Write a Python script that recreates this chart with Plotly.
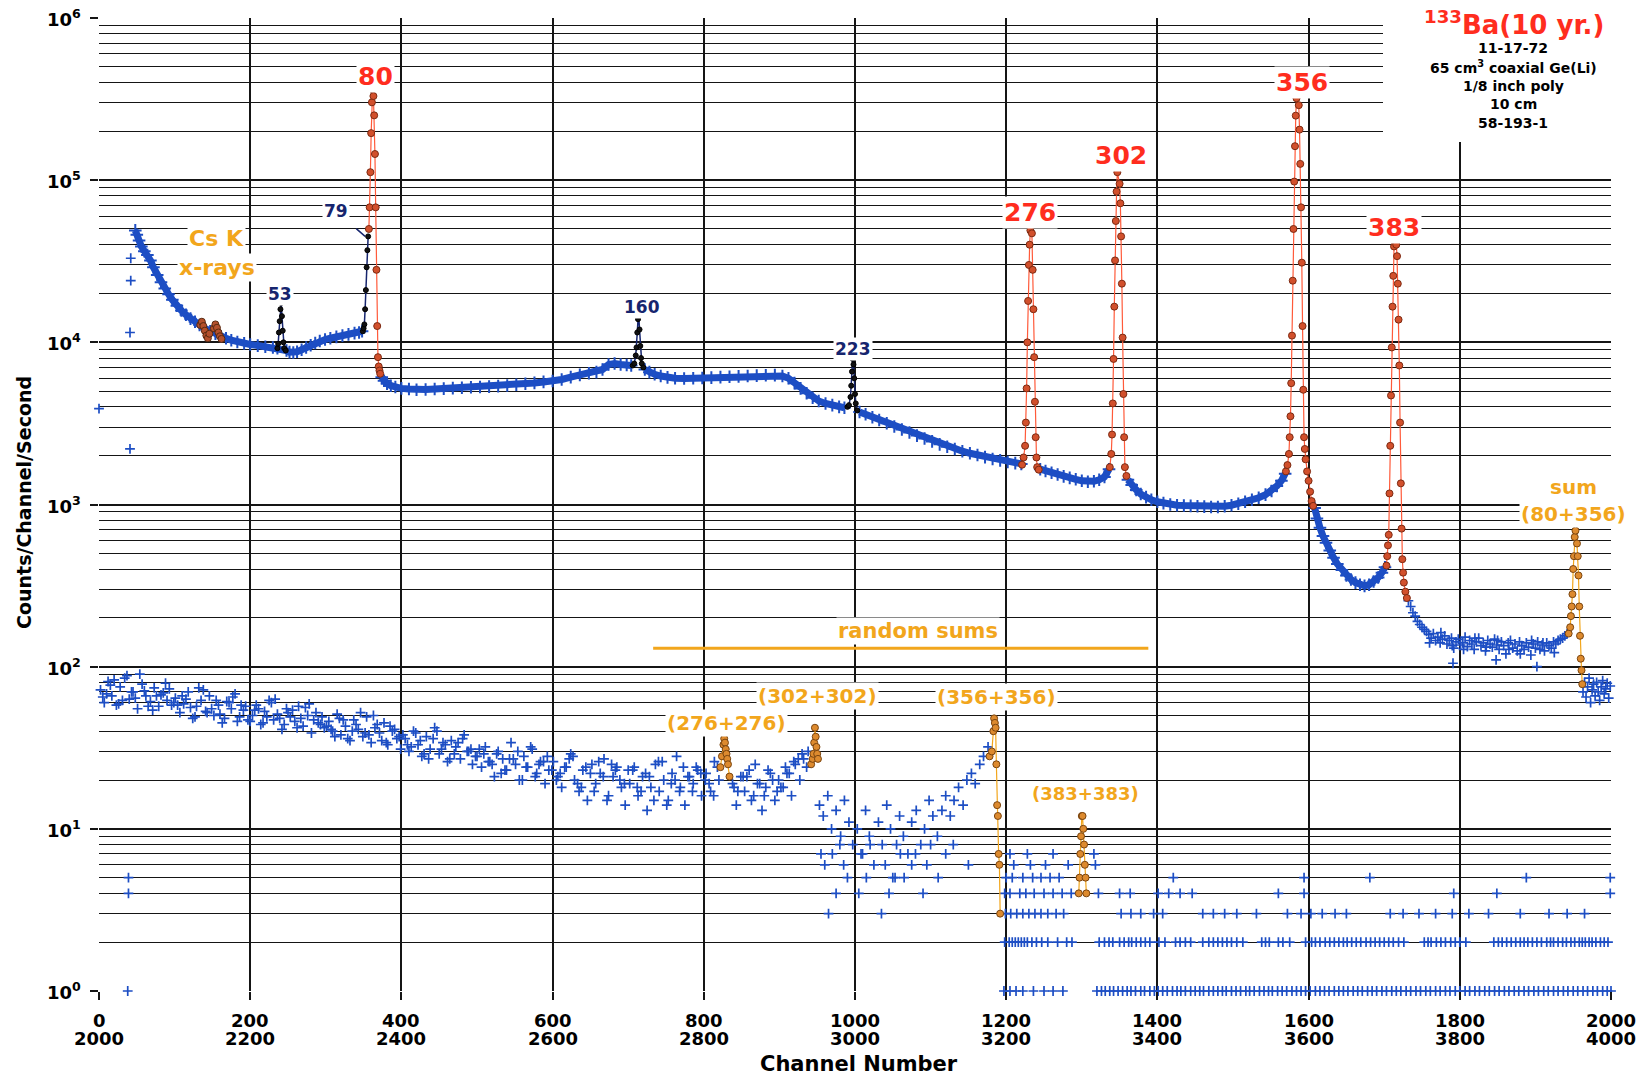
import math
import plotly.graph_objects as go

# ======================= DATA =======================
# Upper spectrum (channels 0-2000), smooth continuum
upper_cont_ch = [
    48, 50, 53, 56, 60, 64, 68, 72, 77, 82, 87, 92, 97, 103, 109, 115,
    121, 127, 133, 140, 147, 154, 161, 168, 175, 183, 192, 200, 210, 220, 230, 236,
    248, 252, 257, 262, 268, 274, 280, 286, 292, 299, 306, 314, 322, 330, 338, 344, 348,
    374, 377, 381, 386, 392, 400, 410, 420, 432, 444, 456, 468, 480, 492, 504, 516,
    528, 540, 552, 564, 576, 588, 600, 612, 624, 636, 648, 658, 666, 674, 682, 690, 698, 704,
    722, 728, 735, 743, 752, 762, 774, 786, 798, 810, 822, 834, 846, 858, 870, 882, 894,
    904, 912, 920, 928, 936, 944, 952, 961, 970, 979, 986,
    1006, 1014, 1023, 1032, 1042, 1052, 1062, 1072, 1082, 1092, 1102, 1112,
    1122, 1132, 1142, 1152, 1162, 1172, 1182, 1192, 1202, 1212, 1220,
    1245, 1252, 1260, 1268, 1276, 1284, 1292, 1300, 1308, 1316, 1323, 1330, 1336,
    1361, 1366, 1372, 1378, 1385, 1392, 1400, 1408, 1417, 1426, 1435, 1444, 1453, 1462,
    1471, 1480, 1489, 1498, 1507, 1516, 1525, 1534, 1543, 1551, 1558, 1564, 1569,
    1608, 1611, 1615, 1619, 1623, 1628, 1633, 1638, 1644, 1650,
    1656, 1662, 1668, 1674, 1680, 1686, 1692, 1697, 1701,
]
upper_cont_val = [
    49000, 46000, 42500, 39000, 36500, 34500, 32000, 29000, 26000, 23500, 21500, 19800, 18300, 16800, 15700, 14800,
    14000, 13400, 12800, 12200, 11700, 11300, 10900, 10600, 10300, 10050, 9850, 9700, 9550, 9400, 9300, 9200,
    8900, 8700, 8650, 8750, 9000, 9300, 9600, 9900, 10200, 10400, 10600, 10800, 11000, 11200, 11400, 11500, 11700,
    6100, 5800, 5550, 5400, 5300, 5200, 5150, 5100, 5120, 5150, 5180, 5220, 5250, 5280, 5300, 5330,
    5370, 5420, 5480, 5550, 5620, 5700, 5780, 5900, 6100, 6300, 6450, 6550, 6800, 7300, 7400, 7300, 7250, 7200,
    6800, 6550, 6350, 6200, 6080, 6000, 5980, 6000, 6030, 6060, 6100, 6130, 6170, 6200, 6230, 6260, 6280,
    6200, 6000, 5600, 5200, 4850, 4550, 4350, 4200, 4100, 4000, 3950,
    3720, 3600, 3450, 3320, 3170, 3030, 2900, 2780, 2660, 2550, 2450, 2350,
    2270, 2200, 2130, 2070, 2020, 1960, 1910, 1870, 1830, 1800, 1780,
    1650, 1610, 1570, 1530, 1490, 1460, 1430, 1400, 1380, 1390, 1420, 1480, 1650,
    1420, 1320, 1230, 1160, 1110, 1070, 1040, 1020, 1000, 990, 985, 980, 975, 970,
    965, 965, 975, 990, 1010, 1040, 1070, 1100, 1150, 1210, 1300, 1400, 1550,
    950, 820, 720, 640, 580, 520, 470, 430, 395, 365,
    345, 330, 320, 315, 320, 335, 355, 380, 410,
]

# Upper spectrum: noisy tail after the 383 keV peak
upper_tail_ch = [
    1732, 1735, 1738, 1741, 1744, 1747, 1750, 1753, 1756, 1759, 1762, 1765, 1768, 1771, 1774, 1777, 1780, 1783,
    1786, 1789, 1792, 1795, 1798, 1801, 1804, 1807, 1810, 1813, 1816, 1819, 1822, 1825, 1828, 1831, 1834, 1837,
    1840, 1843, 1846, 1849, 1852, 1855, 1858, 1861, 1864, 1867, 1870, 1873, 1876, 1879, 1882, 1885, 1888, 1891,
    1894, 1897, 1900, 1903, 1906, 1909, 1912, 1915, 1918, 1921, 1924, 1927, 1930, 1933, 1936, 1939, 1942,
    1760, 1775, 1790, 1805, 1820, 1835, 1850, 1865, 1880, 1895, 1910, 1925, 1791, 1848, 1902,
]
upper_tail_val = [
    255, 235, 215, 205, 190, 182, 175, 170, 165, 158, 150, 160, 145, 152, 140, 148, 155, 138,
    145, 150, 130, 142, 148, 136, 140, 152, 133, 145, 138, 128, 142, 150, 135, 140, 125, 145,
    138, 132, 148, 136, 128, 142, 135, 120, 140, 145, 130, 138, 125, 142, 135, 128, 140, 132,
    118, 138, 130, 142, 128, 136, 125, 140, 135, 130, 142, 138, 145, 148, 150, 155, 160,
    140, 162, 135, 128, 150, 132, 145, 128, 120, 145, 140, 122, 105, 110, 100,
]
# after the sum peak
upper_end_ch = [1963, 1965, 1967, 1969, 1971, 1973, 1975, 1977, 1979, 1981, 1983, 1985, 1987, 1989, 1991, 1993, 1995, 1997, 1999]
upper_end_val = [70, 80, 65, 75, 85, 60, 72, 78, 66, 80, 70, 62, 75, 82, 68, 73, 79, 64, 76]
# stray points at the very start
upper_stray_ch = [0, 42, 42, 41, 41]
upper_stray_val = [3900, 33000, 24000, 11500, 2200]

# Cs K x-ray points
csk_ch = [134, 136, 138, 140, 142, 144, 146, 152, 154, 156, 158, 160, 162]
csk_val = [12800, 13400, 12600, 11800, 11000, 10600, 11300, 12200, 12900, 12300, 11500, 10900, 10500]

# weak peaks (black)
p53_ch = [236, 237, 238, 239, 240, 241, 242, 243, 244, 245, 247]
p53_val = [9200, 9800, 11500, 13500, 16000, 17500, 14500, 11800, 10000, 9200, 8900]
p79_ch = [349, 350, 351, 352, 353, 354, 355, 356]
p79_val = [11700, 12200, 12900, 16000, 21000, 29000, 37000, 45000]
p160_ch = [706, 708, 710, 711, 712, 713, 714, 715, 716, 717, 718, 720]
p160_val = [7200, 7400, 8300, 9300, 11500, 13900, 14500, 12000, 9500, 8000, 7400, 7000]
p223_ch = [990, 992, 994, 995, 996, 997, 998, 999, 1000, 1001, 1003]
p223_val = [4000, 4100, 4600, 5400, 6600, 7900, 7300, 6000, 4800, 4200, 3800]

# strong peaks (red)
p80_ch = [357, 358, 359, 360, 361, 362, 363, 364, 365, 366, 367, 368, 369, 370, 371, 372]
p80_val = [50000, 68000, 112000, 195000, 302000, 363000, 330000, 251000, 145000, 68000, 28000, 12600, 8100, 7100, 6700, 6400]
p276_ch = [1221, 1223, 1225, 1226, 1227, 1228, 1229, 1230, 1231, 1232, 1234, 1235, 1236, 1237, 1238, 1239, 1240, 1241, 1243]
p276_val = [1760, 1950, 2300, 3200, 5200, 10000, 18000, 30000, 40000, 49000, 47000, 28000, 16000, 8100, 4300, 2600, 1950, 1700, 1640]
p302_ch = [1337, 1339, 1340, 1341, 1342, 1343, 1344, 1345, 1346, 1347, 1350, 1351, 1352, 1353, 1354, 1355, 1356, 1357, 1359]
p302_val = [1700, 2050, 2700, 4200, 7900, 16600, 32000, 56000, 85000, 112000, 95000, 72000, 45000, 23000, 10700, 4800, 2600, 1700, 1500]
p356_ch = [1570, 1572, 1574, 1575, 1576, 1577, 1578, 1579, 1580, 1581, 1582, 1583, 1584, 1587,
           1588, 1589, 1590, 1591, 1592, 1593, 1594, 1595, 1596, 1598, 1600, 1602, 1604, 1606]
p356_val = [1600, 1750, 2050, 2600, 3500, 5600, 11000, 24000, 50000, 98000, 162000, 250000, 320000, 290000,
            205000, 126000, 68000, 31000, 12600, 5100, 2600, 2200, 1900, 1600, 1400, 1200, 1050, 980]
p383_ch = [1703, 1704, 1705, 1706, 1707, 1708, 1709, 1710, 1711, 1712, 1713, 1714, 1716,
           1717, 1718, 1719, 1720, 1721, 1722, 1723, 1724, 1725, 1726, 1728, 1730]
p383_val = [420, 480, 560, 650, 1170, 2300, 4700, 9300, 16600, 25700, 39000, 42000, 40000,
            34000, 23000, 13800, 7200, 3200, 1350, 710, 460, 380, 330, 290, 265]
# sum peak 80+356 (orange)
psum_ch = [1944, 1946, 1947, 1948, 1949, 1950, 1951, 1952, 1953, 1955, 1956, 1957, 1958, 1959, 1960, 1961, 1962]
psum_val = [160, 175, 205, 235, 280, 400, 480, 630, 690, 575, 480, 365, 235, 155, 112, 95, 78]

# Lower spectrum (channels 2000-4000, drawn at channel-2000)
lower_a_ch = [
    2, 7, 12, 17, 23, 28, 34, 40, 45, 51, 57, 62, 68, 73, 79, 85, 90, 96,
    101, 107, 112, 118, 124, 129, 135, 141, 146, 152, 158, 163, 169, 175, 180, 186, 191, 197,
    203, 208, 214, 219, 225, 231, 236, 242, 248, 253, 259, 264, 270, 276, 281, 287, 293, 298,
    304, 309, 315, 320, 326, 332, 337, 343, 349, 354, 360, 365, 371, 377, 382, 388, 394, 399,
    405, 410, 416, 422, 427, 433, 438, 444, 450, 455, 461, 466, 472, 478, 483, 489, 494,
    500, 506, 511, 517, 523, 528, 534, 539, 545, 551, 556, 562, 567, 573, 579, 584, 590, 595,
    601, 607, 612, 618, 624, 629, 635, 640, 646, 652, 657, 663, 668, 674, 680, 685, 691, 696,
    702, 708, 713, 719, 725, 730, 736, 741, 747, 753, 758, 764, 769, 775, 781, 786, 792, 797,
    803, 809, 814, 820, 838, 843, 849, 854, 860, 866, 871, 877, 882, 888, 894, 899,
    905, 910, 916, 921, 927, 932, 938, 953, 958, 964, 969, 975, 981, 986, 992, 997,
    1003, 1008, 1014, 1019, 1025, 1031, 1036, 1042, 1047, 1053, 1059, 1064, 1070, 1075, 1081, 1087, 1092, 1098,
    1103, 1109, 1115, 1120, 1126, 1131, 1137, 1143, 1148, 1154, 1159, 1165, 1170, 1176,
]
lower_a_val = [
    72, 60, 81, 66, 58, 75, 85, 63, 70, 55, 78, 66, 61, 74, 57, 69, 62, 58,
    64, 52, 59, 70, 48, 57, 62, 53, 66, 50, 58, 45, 61, 55, 68, 49, 54, 47,
    50, 58, 44, 53, 62, 47, 51, 41, 55, 49, 46, 57, 43, 50, 39, 52, 44, 42,
    46, 40, 51, 38, 43, 35, 47, 41, 37, 49, 34, 42, 39, 45, 33, 40, 36, 31,
    36, 30, 40, 33, 28, 37, 31, 42, 29, 34, 26, 35, 32, 27, 38, 30, 25,
    28, 24, 32, 26, 21, 30, 27, 23, 34, 25, 20, 28, 24, 31, 22, 26, 19, 23,
    26, 21, 18, 24, 29, 20, 17, 23, 15, 25, 19, 22, 27, 16, 21, 24, 18, 14,
    19, 24, 16, 21, 13, 18, 25, 17, 20, 15, 22, 28, 18, 14, 21, 19, 23, 16,
    22, 17, 26, 20, 19, 14, 21, 17, 23, 16, 19, 13, 18, 22, 15, 20,
    18, 22, 16, 25, 20, 27, 30, 14, 12, 16, 10, 13, 9, 15, 11, 8,
    10, 7, 13, 9, 6, 11, 8, 14, 10, 5, 12, 9, 7, 11, 13, 8, 10, 15,
    12, 9, 13, 16, 12, 15, 18, 14, 20, 22, 19, 25, 28, 32,
]
lower_b_ch = [
    5, 15, 26, 37, 48, 60, 71, 82, 93,
    104, 115, 127, 138, 149, 160, 172, 183, 194,
    206, 217, 228, 239, 250, 262, 273, 284, 295,
    307, 318, 329, 340, 352, 363, 374, 385, 397,
    408, 419, 430, 442, 453, 464, 475, 487, 498,
    509, 520, 532, 543, 554, 565, 577, 588, 599,
    610, 622, 633, 644, 655, 667, 678, 689, 700,
    712, 723, 734, 745, 757, 768, 779, 790,
    802, 813, 840, 852, 863, 874, 885, 897, 908, 919, 930,
]
lower_b_val = [
    65, 77, 59, 88, 64, 71, 54, 67, 73,
    58, 63, 49, 72, 55, 51, 60, 46, 57,
    54, 45, 60, 48, 52, 42, 56, 47, 49,
    41, 48, 36, 44, 39, 50, 35, 43, 37,
    33, 39, 29, 36, 31, 27, 34, 30, 28,
    29, 25, 22, 27, 30, 24, 21, 26, 23,
    22, 27, 19, 24, 17, 21, 25, 20, 23,
    18, 22, 15, 26, 19, 17, 21, 24,
    20, 16, 18, 21, 15, 19, 23, 17, 24, 26, 29,
]
lower_c_ch = [
    10, 20, 31, 43, 54, 65, 76, 88, 99,
    110, 121, 132, 143, 155, 166, 177, 188,
    200, 211, 222, 233, 245, 256, 267, 278, 290,
    301, 312, 323, 335, 346, 357, 368, 380, 391,
    402, 413, 425, 436, 447, 458, 470, 481, 492,
    503, 515, 526, 537, 548, 560, 571, 582, 593,
    605, 616, 627, 638, 650, 661, 672, 683, 695,
    706, 717, 728, 740, 751, 762, 773, 785, 796,
    807, 818, 845, 857, 868, 880, 891, 902, 913, 925, 936,
]
lower_c_val = [
    68, 83, 62, 70, 90, 57, 66, 79, 60,
    66, 56, 74, 52, 62, 48, 65, 58,
    46, 55, 49, 63, 44, 54, 48, 59, 45,
    43, 37, 47, 40, 52, 38, 44, 34, 41,
    38, 32, 35, 27, 40, 33, 29, 36, 31,
    31, 26, 29, 23, 27, 20, 32, 25, 28,
    20, 24, 28, 18, 22, 26, 15, 23, 19,
    23, 17, 21, 26, 14, 20, 24, 17, 22,
    19, 24, 17, 21, 25, 16, 20, 18, 22, 27, 24,
]
# Lower spectrum: low-count channels sitting on discrete levels
lower_lvl8_ch = [980, 1020, 1055, 1100, 1130]
lower_lvl7_ch = [955, 970, 1010, 1060, 1080, 1120, 1205, 1228, 1262, 1316]
lower_lvl6_ch = [960, 985, 1040, 1075, 1095, 1150, 1210, 1232, 1252, 1282, 1318]
lower_lvl5_ch = [39, 990, 1015, 1050, 1065, 1110, 1200, 1208, 1222, 1235, 1246, 1258, 1270, 1421, 1594, 1681, 1888, 1999]
lower_lvl4_ch = [39, 975, 1005, 1045, 1090, 1198, 1205, 1218, 1226, 1237, 1250, 1262, 1274, 1286, 1322, 1350,
                 1364, 1401, 1415, 1430, 1446, 1560, 1594, 1792, 1849, 1999]
lower_lvl3_ch = [965, 1035, 1199, 1206, 1214, 1222, 1230, 1238, 1246, 1255, 1266, 1276, 1352, 1365, 1378, 1395,
                 1407, 1460, 1474, 1489, 1505, 1531, 1572, 1590, 1603, 1618, 1635, 1650, 1708, 1725, 1746, 1768,
                 1790, 1812, 1838, 1880, 1918, 1942, 1965]
lower_lvl2_ch = [1198, 1204, 1208, 1212, 1216, 1220, 1224, 1228, 1234, 1240, 1247, 1255, 1268, 1280, 1287,
                 1323, 1330, 1336, 1341, 1350, 1356, 1362, 1366, 1372, 1378, 1384, 1390, 1402, 1410, 1424,
                 1430, 1437, 1444, 1460, 1468, 1474, 1480, 1486, 1492, 1498, 1505, 1513, 1538, 1543, 1548,
                 1560, 1566, 1575, 1596, 1604, 1609, 1615, 1622, 1628, 1634, 1640, 1646, 1651, 1657, 1663,
                 1669, 1676, 1682, 1688, 1694, 1700, 1706, 1712, 1719, 1726, 1753, 1758, 1762, 1769, 1775,
                 1781, 1788, 1794, 1800, 1808, 1845, 1851, 1856, 1862, 1868, 1874, 1880, 1885, 1890, 1896,
                 1902, 1908, 1915, 1920, 1924, 1930, 1936, 1941, 1947, 1952, 1958, 1962, 1966, 1971, 1975,
                 1980, 1986, 1991, 1996]
lower_lvl1_ch = [38, 1197, 1205, 1213, 1222, 1236, 1250, 1262, 1275,
                 1320, 1326, 1331, 1337, 1342, 1348, 1354, 1360, 1365, 1371, 1378, 1383, 1390, 1396, 1401,
                 1407, 1413, 1420, 1426, 1431, 1437, 1444, 1450, 1456, 1461, 1468, 1474, 1480, 1486, 1491,
                 1498, 1504, 1510, 1517, 1522, 1528, 1535, 1541, 1547, 1552, 1559, 1565, 1571, 1578, 1584,
                 1590, 1596, 1602, 1609, 1615, 1621, 1627, 1634, 1640, 1646, 1652, 1659, 1665, 1671, 1678,
                 1684, 1690, 1697, 1703, 1710, 1716, 1722, 1729, 1735, 1742, 1748, 1755, 1761, 1768, 1774,
                 1781, 1787, 1794, 1800, 1807, 1813, 1820, 1826, 1833, 1839, 1846, 1852, 1859, 1865, 1872,
                 1878, 1885, 1891, 1898, 1904, 1911, 1917, 1924, 1930, 1937, 1943, 1950, 1956, 1963, 1969,
                 1976, 1982, 1989, 1995, 2000]

# Lower sum peaks (orange)
s276_ch = [822, 824, 826, 827, 828, 829, 830, 831, 832, 834]
s276_val = [24, 28, 33, 36, 34, 31, 29, 27, 25, 21]
s302_ch = [942, 944, 945, 946, 947, 948, 949, 950, 951]
s302_val = [25, 27, 29, 34, 42, 37, 32, 29, 27]
s356_ch = [1178, 1181, 1183, 1184, 1185, 1186, 1187, 1188, 1189, 1190, 1191, 1192]
s356_val = [28, 30, 40, 48, 45, 42, 25, 14, 12, 7, 6, 3]
s383_ch = [1296, 1297, 1298, 1299, 1300, 1301, 1302, 1303, 1304, 1305, 1306]
s383_val = [4, 5, 7, 9, 12, 12, 10, 8, 6, 5, 4]

random_sums_span = [733, 1388]
random_sums_level = [130, 130]

x_tick_vals = [0, 200, 400, 600, 800, 1000, 1200, 1400, 1600, 1800, 2000]
x_tick_top = ["0", "200", "400", "600", "800", "1000", "1200", "1400", "1600", "1800", "2000"]
x_tick_bottom = ["2000", "2200", "2400", "2600", "2800", "3000", "3200", "3400", "3600", "3800", "4000"]
y_tick_vals = [1, 10, 100, 1000, 10000, 100000, 1000000]
y_tick_text = ["10<sup>0</sup>", "10<sup>1</sup>", "10<sup>2</sup>", "10<sup>3</sup>",
               "10<sup>4</sup>", "10<sup>5</sup>", "10<sup>6</sup>"]

# ======================= STYLE =======================
BLUE = "#1d4ec4"
RED_LINE = "#ff5a3a"
RED_FILL = "#d2502c"
RED_EDGE = "#7c2a12"
ORANGE = "#f2a61c"
OR_FILL = "#dd8a2e"
OR_EDGE = "#7a4510"
NAVY = "#16256e"
FONT = "DejaVu Sans"
GRID = "#151515"

# plot area in page pixels
PL, PR, PT, PB = 99, 1611, 18, 991
W, H = 1648, 1077

fig = go.Figure()


def gapped(xs, ys, gap=15):
    X, Y, prev = [], [], None
    for x, y in zip(xs, ys):
        if prev is not None and x - prev > gap:
            X.append(None)
            Y.append(None)
        X.append(x)
        Y.append(y)
        prev = x
    return X, Y


cross = dict(symbol="cross-thin", size=7, color=BLUE, line=dict(width=1.7, color=BLUE))
cross_big = dict(symbol="cross-thin", size=9, color=BLUE, line=dict(width=2, color=BLUE))

# lower spectrum
lvl_x, lvl_y = [], []
for lvl, chans in [(8, lower_lvl8_ch), (7, lower_lvl7_ch), (6, lower_lvl6_ch), (5, lower_lvl5_ch),
                   (4, lower_lvl4_ch), (3, lower_lvl3_ch), (2, lower_lvl2_ch), (1, lower_lvl1_ch)]:
    lvl_x += chans
    lvl_y += [lvl] * len(chans)
fig.add_trace(go.Scatter(x=lower_a_ch + lower_b_ch + lower_c_ch + lvl_x,
                         y=lower_a_val + lower_b_val + lower_c_val + lvl_y,
                         mode="markers", marker=cross, cliponaxis=False))

# upper spectrum continuum
cx, cy = gapped(upper_cont_ch, upper_cont_val)
fig.add_trace(go.Scatter(x=cx, y=cy, mode="lines+markers", line=dict(color=BLUE, width=7),
                         marker=cross_big, connectgaps=False))
fig.add_trace(go.Scatter(x=upper_tail_ch + upper_end_ch + upper_stray_ch,
                         y=upper_tail_val + upper_end_val + upper_stray_val,
                         mode="markers", marker=cross, cliponaxis=False))

# random sums marker line
fig.add_trace(go.Scatter(x=random_sums_span, y=random_sums_level, mode="lines",
                         line=dict(color=ORANGE, width=3), hoverinfo="skip"))


def peak(xs, ys, lc, fill, edge, size=7, lw=1.2):
    fig.add_trace(go.Scatter(x=xs, y=ys, mode="lines+markers", line=dict(color=lc, width=lw),
                             marker=dict(symbol="circle", size=size, color=fill,
                                         line=dict(color=edge, width=1)), cliponaxis=False))


fig.add_trace(go.Scatter(x=csk_ch, y=csk_val, mode="markers",
                         marker=dict(symbol="circle", size=7, color="#b4502c",
                                     line=dict(color="#5a2a10", width=1))))
for xs, ys in [(p53_ch, p53_val), (p79_ch, p79_val), (p160_ch, p160_val), (p223_ch, p223_val)]:
    peak(xs, ys, NAVY, "#111111", "#000000", size=5, lw=1.5)
for xs, ys in [(p80_ch, p80_val), (p276_ch, p276_val), (p302_ch, p302_val),
               (p356_ch, p356_val), (p383_ch, p383_val)]:
    peak(xs, ys, RED_LINE, RED_FILL, RED_EDGE)
for xs, ys in [(psum_ch, psum_val), (s276_ch, s276_val), (s302_ch, s302_val),
               (s356_ch, s356_val), (s383_ch, s383_val)]:
    peak(xs, ys, ORANGE, OR_FILL, OR_EDGE)

# ======================= ANNOTATIONS =======================
ann = []


def bold(size, color):
    return dict(family=FONT, size=size, color=color, weight="bold")


def px2x(px):
    return (px - PL) / (PR - PL)


def py2y(py):
    return (PB - py) / (PB - PT)


def label(text, x, yval, color, size, bg="white"):
    ann.append(dict(text=text, x=x, y=math.log10(yval), xref="x", yref="y", showarrow=False,
                    xanchor="center", yanchor="middle", font=bold(size, color),
                    bgcolor=bg, borderpad=1))


def paper_text(text, px, py, size, color="black", angle=0, xanchor="center"):
    ann.append(dict(text=text, x=px2x(px), y=py2y(py), xref="paper", yref="paper",
                    showarrow=False, xanchor=xanchor, yanchor="middle", textangle=angle,
                    font=bold(size, color)))


for t, x, v in [("80", 366, 437000), ("276", 1232, 63000), ("302", 1352, 141000),
                ("356", 1591, 398000), ("383", 1713, 51300)]:
    label(t, x, v, "#ff2d1e", 25)
for t, x, v in [("53", 239, 20000), ("160", 718, 16400), ("223", 998, 9100)]:
    label(t, x, v, NAVY, 17)
ann.append(dict(text="79", x=352, y=math.log10(45000), ax=313, ay=math.log10(65000),
                xref="x", yref="y", axref="x", ayref="y", showarrow=True, arrowhead=0,
                arrowwidth=1.5, arrowcolor=NAVY, standoff=0, startstandoff=10,
                font=bold(17, NAVY), bgcolor="white"))
label("Cs K", 156, 43700, ORANGE, 22)
label("x-rays", 156, 29000, ORANGE, 22)
label("sum", 1950, 1290, ORANGE, 20)
label("(80+356)", 1950, 870, ORANGE, 20)
label("random sums", 1083, 166, ORANGE, 21)
label("(302+302)", 950, 66, ORANGE, 20)
label("(276+276)", 830, 45, ORANGE, 20)
label("(356+356)", 1187, 65, ORANGE, 20)
label("(383+383)", 1305, 16.4, ORANGE, 18)

# x tick labels (two rows: first and second half of the spectrum)
for xv, top, bot in zip(x_tick_vals, x_tick_top, x_tick_bottom):
    for txt, py in [(top, 1021), (bot, 1038)]:
        ann.append(dict(text=txt, x=xv, y=py2y(py), xref="x", yref="paper", showarrow=False,
                        xanchor="center", yanchor="middle", font=bold(18, "black")))
# y tick labels
for yv, txt in zip(y_tick_vals, y_tick_text):
    ann.append(dict(text=txt, x=px2x(83), y=math.log10(yv), xref="paper", yref="y",
                    showarrow=False, xanchor="right", yanchor="middle", font=bold(18, "black")))

paper_text("Channel Number", 859, 1064, 21)
paper_text("Counts/Channel/Second", 24, 503, 19, angle=-90)

paper_text("<sup>133</sup>Ba(10 yr.)", 1514, 23, 26, color="#ff2d1e")
for txt, py in [("11-17-72", 48), ("65 cm<sup>3</sup> coaxial Ge(Li)", 67), ("1/8 inch poly", 86),
                ("10 cm", 104), ("58-193-1", 123)]:
    paper_text(txt, 1513, py, 14)

minor_vals = [m * 10 ** k for k in range(6) for m in range(2, 10)]

fig.update_layout(
    width=W, height=H, autosize=False,
    margin=dict(l=PL, r=W - PR, t=PT, b=H - PB),
    paper_bgcolor="white", plot_bgcolor="white", showlegend=False,
    font=dict(family=FONT, color="black"),
    xaxis=dict(range=[0, 2000], tickvals=x_tick_vals, showticklabels=False, ticks="outside",
               ticklen=8, tickwidth=1.5, tickcolor=GRID, showgrid=True, gridcolor=GRID, gridwidth=1.6,
               zeroline=False, showline=False),
    yaxis=dict(type="log", range=[0, 6], tickvals=y_tick_vals, showticklabels=False, ticks="outside",
               ticklen=8, tickwidth=1.5, tickcolor=GRID, showgrid=True, gridcolor=GRID, gridwidth=1.6,
               zeroline=False, showline=False,
               minor=dict(tickvals=minor_vals, showgrid=True, gridcolor=GRID, gridwidth=1.2, ticks="")),
    annotations=ann,
    shapes=[dict(type="rect", xref="paper", yref="paper", x0=px2x(1383), x1=1.05,
                 y0=py2y(142), y1=1.05, fillcolor="white", line=dict(width=0), layer="above")],
)

fig.write_html("out.html", config={"displayModeBar": False},
               post_script="document.body.style.margin='0';document.body.style.overflow='hidden';")
